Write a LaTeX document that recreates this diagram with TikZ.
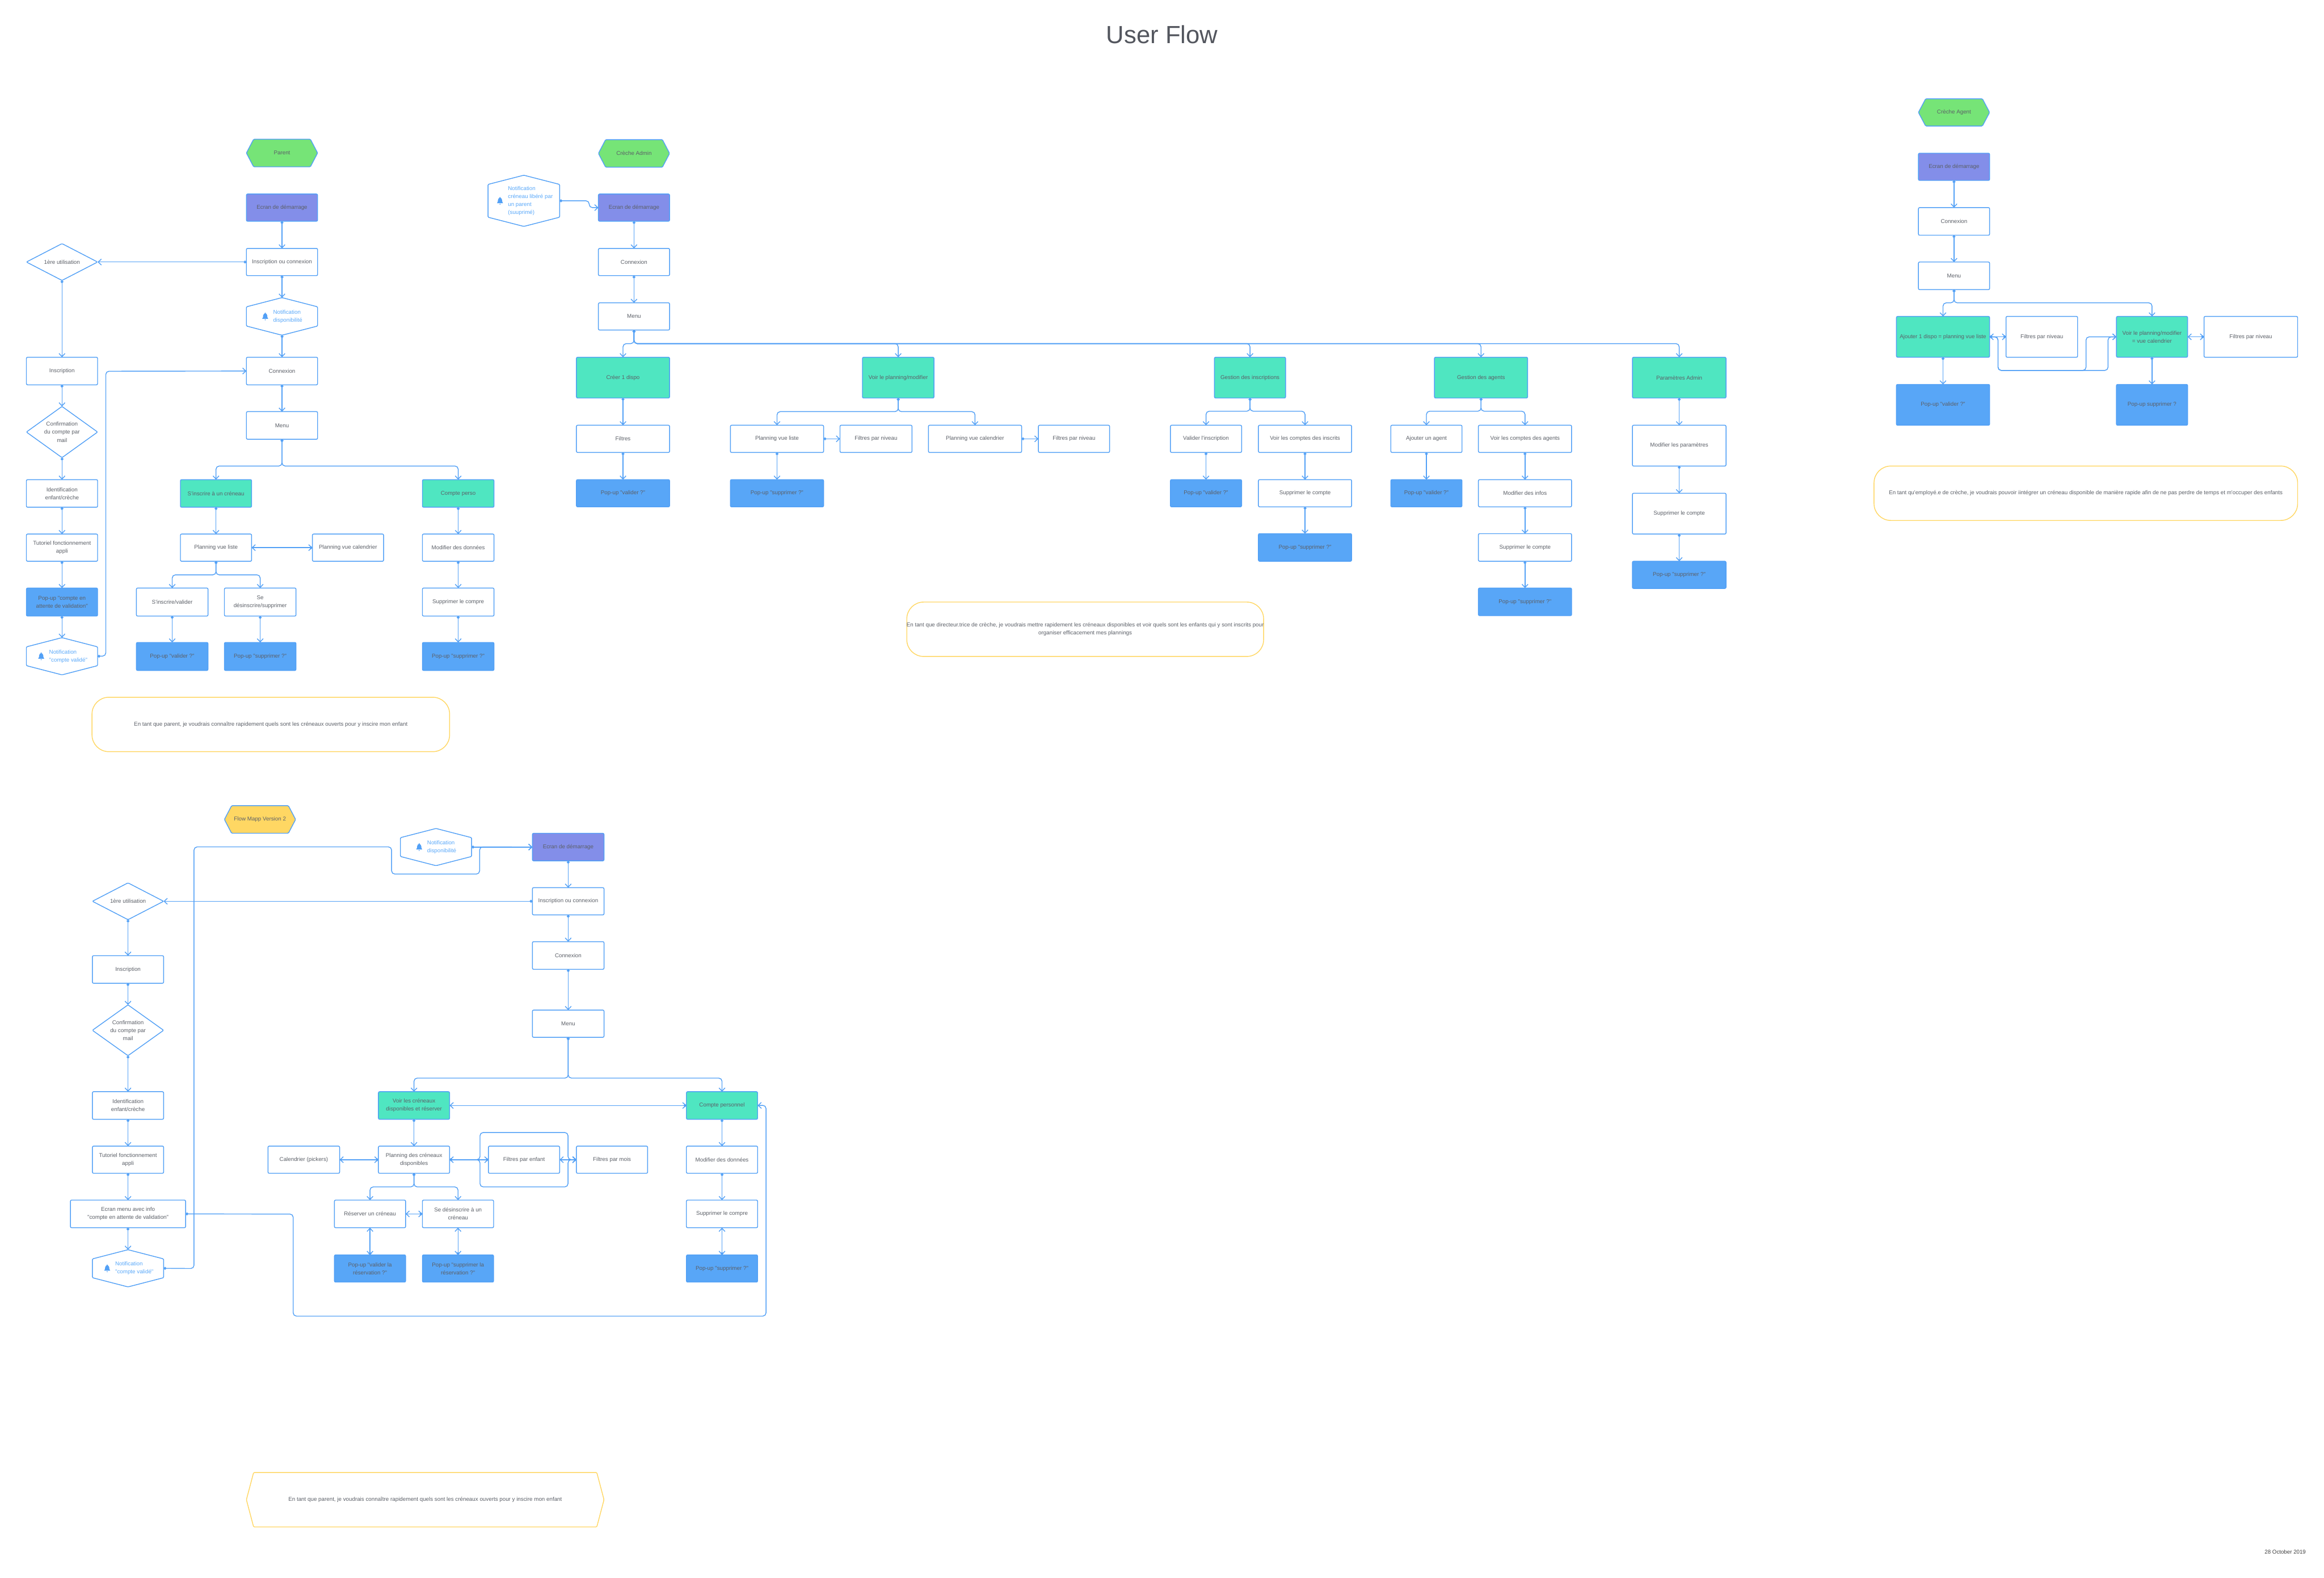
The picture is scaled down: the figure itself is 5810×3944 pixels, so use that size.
\documentclass[tikz,border=0pt]{standalone}
\usepackage{fontspec}
\newfontfamily\uifont{Liberation Sans}
\usetikzlibrary{arrows.meta}
\definecolor{line}{HTML}{52A0F6}
\definecolor{ink}{HTML}{5C6068}
\definecolor{popf}{HTML}{58A6F7}
\definecolor{teal}{HTML}{4FE6C1}
\definecolor{indigo}{HTML}{838EE9}
\definecolor{leaf}{HTML}{76E477}
\definecolor{sun}{HTML}{FFD763}
\definecolor{notif}{HTML}{5AA9FA}
\tikzset{
  txt/.style={font=\uifont\fontsize{13.9}{20}\selectfont,text=ink,align=center,inner sep=0pt,outer sep=0pt},
  box/.style={txt,shape=rectangle,draw=line,line width=2pt,fill=white,rounded corners=3pt},
  plain/.style={box},
  tealbox/.style={box,fill=teal},
  popbox/.style={box,fill=popf},
  indbox/.style={box,fill=indigo},
  note/.style={txt,shape=rectangle,draw=sun,line width=2pt,fill=white,rounded corners=42pt},
  outline/.style={draw=line,line width=2pt,rounded corners=2pt},
  conn/.style={draw=line,line width=2pt,rounded corners=8pt,
    {Circle[length=7pt,fill=line]}-{Straight Barb[length=8pt,width=15pt,line width=2pt]}},
  both/.style={draw=line,line width=2pt,rounded corners=8pt,
    preaction={draw=line,line width=2pt,{Circle[length=7pt,fill=line]}-},
    {Straight Barb[length=8pt,width=15pt,line width=2pt]}-{Straight Barb[length=8pt,width=15pt,line width=2pt]}},
}
% #1 style, #2 name, #3 x1, #4 y1, #5 x2, #6 y2, #7 text
\newcommand\bx[7]{\node[#1,minimum width={(#5-#3)*1pt},minimum height={(#6-#4)*1pt}] (#2) at ({(#3+#5)/2},{(#4+#6)/2}) {#7};}
% flat hexagon: #1 fill colour, #2 name, #3..#6 box, #7 inset, #8 text, #9 stroke
\newcommand\hx[9]{\path[draw=#9,line width=2pt,rounded corners=2pt,fill=#1] (#3,{(#4+#6)/2}) -- (#3+#7,#4) -- (#5-#7,#4) -- (#5,{(#4+#6)/2}) -- (#5-#7,#6) -- (#3+#7,#6) -- cycle;
  \node[txt,minimum width={(#5-#3)*1pt},minimum height={(#6-#4)*1pt}] (#2) at ({(#3+#5)/2},{(#4+#6)/2}) {#8};}
% diamond: #1 name, #2..#5 box, #6 text
\newcommand\dm[6]{\path[outline,fill=white] (#2,{(#3+#5)/2}) -- ({(#2+#4)/2},#3) -- (#4,{(#3+#5)/2}) -- ({(#2+#4)/2},#5) -- cycle;
  \node[txt,minimum width={(#4-#2)*1pt},minimum height={(#5-#3)*1pt}] (#1) at ({(#2+#4)/2},{(#3+#5)/2}) {#6};}
% bell icon
\newcommand\bell[2]{\fill[line,shift={({#1},{#2})}] (0,-8) circle[radius=1.6] (-7.5,6) .. controls (-5,3) and (-5.2,0) .. (-5.2,-2) .. controls (-5.2,-6) and (-2,-7.5) .. (0,-7.5) .. controls (2,-7.5) and (5.2,-6) .. (5.2,-2) .. controls (5.2,0) and (5,3) .. (7.5,6) -- cycle (0,8.5) circle[radius=1.4];}
% pointy hexagon with bell: #1 name, #2..#5 box, #6 bell offset, #7 text offset, #8 text
\newcommand\vh[8]{\path[outline,fill=white] (#2,#3+23) -- ({(#2+#4)/2},#3) -- (#4,#3+23) -- (#4,#5-23) -- ({(#2+#4)/2},#5) -- (#2,#5-23) -- cycle;
  \node[txt,minimum width={(#4-#2)*1pt},minimum height={(#5-#3)*1pt}] (#1) at ({(#2+#4)/2},{(#3+#5)/2}) {};
  \bell{#2+#6}{(#3+#5)/2}
  \node[txt,text=notif,align=left,anchor=west] (#1t) at (#2+#7,{(#3+#5)/2}) {#8};}
\newcommand\dn[2]{\draw[conn] (#1.south) -- (#2.north);}
\newcommand\br[3]{\draw[conn] (#1.south) -- (#1.south |- 0,#2) -| (#3.north);}
\begin{document}
\begin{tikzpicture}[x=1pt,y=-1pt]
\useasboundingbox (0,0) rectangle (5810,3944);
\fill[white] (0,0) rectangle (5810,3944);
\node[txt,font=\uifont\fontsize{62}{70}\selectfont,text=ink!90!black] (title) at (2905,86) {User Flow};
\node[txt,font=\uifont\fontsize{13.8}{18}\selectfont,text=black!75] (date) at (5713,3880) {28 October 2019};

% ---- Parent
\hx{leaf}{pactor}{616}{348}{794}{417}{18}{Parent}{line}
\bx{indbox}{pstart}{616}{485}{794}{553}{Ecran de démarrage}
\bx{plain}{pins}{616}{621}{794}{689}{Inscription ou connexion}
\vh{pnotif}{616}{744}{794}{838}{47}{67}{Notification\\disponibilité}
\bx{plain}{pconn}{616}{893}{794}{962}{Connexion}
\bx{plain}{pmenu}{616}{1029}{794}{1098}{Menu}
\bx{tealbox}{psub}{451}{1199}{629}{1268}{S'inscrire à un créneau}
\bx{tealbox}{pperso}{1056}{1199}{1235}{1268}{Compte perso}
\bx{plain}{plist}{451}{1335}{629}{1403}{Planning vue liste}
\bx{plain}{pcal}{781}{1335}{959}{1403}{Planning vue calendrier}
\bx{plain}{pmod}{1056}{1335}{1235}{1403}{Modifier des données}
\bx{plain}{psup}{1056}{1470}{1235}{1540}{Supprimer le compre}
\bx{popbox}{ppsup}{1056}{1606}{1235}{1676}{Pop-up "supprimer ?"}
\bx{plain}{pval}{341}{1470}{520}{1540}{S'inscrire/valider}
\bx{plain}{pdes}{561}{1470}{740}{1540}{Se\\désinscrire/supprimer}
\bx{popbox}{ppval}{341}{1606}{520}{1676}{Pop-up "valider ?"}
\bx{popbox}{ppdes}{561}{1606}{740}{1676}{Pop-up "supprimer ?"}
\dm{pfirst}{66}{609}{244}{701}{1ère utilisation}
\bx{plain}{preg}{66}{893}{244}{962}{Inscription}
\dm{pmail}{66}{1016}{244}{1144}{Confirmation\\du compte par\\mail}
\bx{plain}{pid}{66}{1199}{244}{1268}{Identification\\enfant/crèche}
\bx{plain}{ptuto}{66}{1335}{244}{1403}{Tutoriel fonctionnement\\appli}
\bx{popbox}{pwait}{66}{1470}{244}{1540}{Pop-up "compte en\\attente de validation"}
\vh{pok}{66}{1594}{244}{1687}{37}{57}{Notification\\"compte validé"}
\bx{note}{pnote}{230}{1743}{1124}{1879}{En tant que parent, je voudrais connaître rapidement quels sont les créneaux ouverts pour y inscire mon enfant}
\dn{pstart}{pins}\dn{pins}{pnotif}\dn{pnotif}{pconn}\dn{pconn}{pmenu}
\br{pmenu}{1165}{psub}\br{pmenu}{1165}{pperso}
\dn{psub}{plist}\draw[both] (pcal.west) -- (plist.east);
\br{plist}{1437}{pval}\br{plist}{1437}{pdes}
\dn{pval}{ppval}\dn{pdes}{ppdes}
\dn{pperso}{pmod}\dn{pmod}{psup}\dn{psup}{ppsup}
\draw[conn] (pins.west) -- (pfirst.east);
\dn{pfirst}{preg}\dn{preg}{pmail}\dn{pmail}{pid}\dn{pid}{ptuto}\dn{ptuto}{pwait}\dn{pwait}{pok}
\draw[conn] (pok.east) -- (264.5,1640) -- (264.5,928) -- (pconn.west);

% ---- Crèche Admin
\hx{leaf}{aactor}{1496}{349}{1674}{418}{18}{Crèche Admin}{line}
\vh{anotif}{1220}{438}{1399}{566}{30}{50}{Notification\\créneau libéré par\\un parent\\(suuprimé)}
\bx{indbox}{astart}{1496}{485}{1674}{553}{Ecran de démarrage}
\bx{plain}{aconn}{1496}{621}{1674}{689}{Connexion}
\bx{plain}{amenu}{1496}{757}{1674}{825}{Menu}
\bx{tealbox}{at1}{1441}{893}{1674}{995}{Créer 1 dispo}
\bx{tealbox}{at2}{2156}{893}{2335}{995}{Voir le planning/modifier}
\bx{tealbox}{at3}{3036}{893}{3214}{995}{Gestion des inscriptions}
\bx{tealbox}{at4}{3586}{893}{3819}{995}{Gestion des agents}
\bx{tealbox}{at5}{4081}{893}{4315}{995}{Paramètres Admin}
\bx{plain}{afil}{1441}{1063}{1674}{1131}{Filtres}
\bx{plain}{alist}{1826}{1063}{2059}{1131}{Planning vue liste}
\bx{plain}{af1}{2100}{1063}{2280}{1131}{Filtres par niveau}
\bx{plain}{acal}{2321}{1063}{2554}{1131}{Planning vue calendrier}
\bx{plain}{af2}{2596}{1063}{2774}{1131}{Filtres par niveau}
\bx{plain}{avi}{2926}{1063}{3104}{1131}{Valider l'inscription}
\bx{plain}{avc}{3146}{1063}{3379}{1131}{Voir les comptes des inscrits}
\bx{plain}{aaj}{3477}{1063}{3655}{1131}{Ajouter un agent}
\bx{plain}{ava}{3696}{1063}{3929}{1131}{Voir les comptes des agents}
\bx{plain}{amp}{4081}{1063}{4315}{1165}{Modifier les paramètres}
\bx{plain}{asp}{4081}{1233}{4315}{1335}{Supprimer le compte}
\bx{popbox}{app}{4081}{1403}{4315}{1471}{Pop-up "supprimer ?"}
\bx{popbox}{ap1}{1441}{1199}{1674}{1267}{Pop-up "valider ?"}
\bx{popbox}{ap2}{1826}{1199}{2059}{1267}{Pop-up "supprimer ?"}
\bx{popbox}{ap3}{2926}{1199}{3104}{1267}{Pop-up "valider ?"}
\bx{plain}{asc}{3146}{1199}{3379}{1267}{Supprimer le compte}
\bx{popbox}{ap4}{3477}{1199}{3655}{1267}{Pop-up "valider ?"}
\bx{plain}{ami}{3696}{1199}{3929}{1267}{Modifier des infos}
\bx{popbox}{ap5}{3146}{1334}{3379}{1403}{Pop-up "supprimer ?"}
\bx{plain}{asi}{3696}{1334}{3929}{1403}{Supprimer le compte}
\bx{popbox}{ap6}{3696}{1470}{3929}{1539}{Pop-up "supprimer ?"}
\bx{note}{anote}{2267}{1505}{3159}{1641}{}
\node[txt] (anotetext) at (anote.center) {En tant que directeur.trice de crèche, je voudrais mettre rapidement les créneaux disponibles et voir quels sont les enfants qui y sont inscrits pour\\organiser efficacement mes plannings};
\draw[conn] (anotif.east) -- (1473,502) -- (1473,519) -- (astart.west);
\dn{astart}{aconn}\dn{aconn}{amenu}
\br{amenu}{859}{at1}\br{amenu}{859}{at2}\br{amenu}{859}{at3}\br{amenu}{859}{at4}\br{amenu}{859}{at5}
\dn{at1}{afil}\dn{afil}{ap1}
\br{at2}{1029}{alist}\br{at2}{1029}{acal}
\dn{alist}{ap2}\draw[conn] (alist.east) -- (af1.west);\draw[conn] (acal.east) -- (af2.west);
\br{at3}{1028}{avi}\br{at3}{1028}{avc}
\dn{avi}{ap3}\dn{avc}{asc}\dn{asc}{ap5}
\br{at4}{1028}{aaj}\br{at4}{1028}{ava}
\dn{aaj}{ap4}\dn{ava}{ami}\dn{ami}{asi}\dn{asi}{ap6}
\dn{at5}{amp}\dn{amp}{asp}\dn{asp}{app}

% ---- Crèche Agent
\hx{leaf}{cactor}{4796}{247}{4974}{315}{18}{Crèche Agent}{line}
\bx{indbox}{cstart}{4796}{383}{4974}{451}{Ecran de démarrage}
\bx{plain}{cconn}{4796}{519}{4974}{588}{Connexion}
\bx{plain}{cmenu}{4796}{655}{4974}{724}{Menu}
\bx{tealbox}{ct1}{4741}{791}{4974}{893}{Ajouter 1 dispo = planning vue liste}
\bx{plain}{cf1}{5015}{791}{5194}{893}{Filtres par niveau}
\bx{tealbox}{ct2}{5291}{791}{5469}{893}{Voir le planning/modifier\\= vue calendrier}
\bx{plain}{cf2}{5510}{791}{5744}{893}{Filtres par niveau}
\bx{popbox}{cp1}{4741}{961}{4974}{1063}{Pop-up "valider ?"}
\bx{popbox}{cp2}{5291}{961}{5469}{1063}{Pop-up supprimer ?}
\bx{note}{cnote}{4685}{1165}{5744}{1301}{En tant qu'employé.e de crèche, je voudrais pouvoir iintégrer un créneau disponible de manière rapide afin de ne pas perdre de temps et m'occuper des enfants}
\dn{cstart}{cconn}\dn{cconn}{cmenu}
\br{cmenu}{757}{ct1}\br{cmenu}{757}{ct2}
\dn{ct1}{cp1}\dn{ct2}{cp2}
\draw[both] (cf1.west) -- (ct1.east);
\draw[both] (cf2.west) -- (ct2.east);
\draw[conn] (ct1.east) -- (4995,842) -- (4995,926) -- (5215,926) -- (5215,842) -- (ct2.west);
\draw[conn] (ct1.east) -- (4995,842) -- (4995,926) -- (5270,926) -- (5270,842) -- (ct2.west);

% ---- Flow Mapp Version 2
\hx{sun}{vactor}{561}{2014}{739}{2083}{18}{Flow Mapp Version 2}{line}
\vh{vnotif}{1001}{2071}{1179}{2164}{47}{67}{Notification\\disponibilité}
\bx{indbox}{vstart}{1331}{2083}{1510}{2152}{Ecran de démarrage}
\bx{plain}{vins}{1331}{2219}{1510}{2287}{Inscription ou connexion}
\bx{plain}{vconn}{1331}{2354}{1510}{2423}{Connexion}
\bx{plain}{vmenu}{1331}{2525}{1510}{2593}{Menu}
\dm{vfirst}{231}{2207}{409}{2299}{1ère utilisation}
\bx{plain}{vreg}{231}{2389}{409}{2458}{Inscription}
\dm{vmail}{231}{2512}{409}{2639}{Confirmation\\du compte par\\mail}
\bx{plain}{vid}{231}{2729}{409}{2798}{Identification\\enfant/crèche}
\bx{plain}{vtuto}{231}{2865}{409}{2933}{Tutoriel fonctionnement\\appli}
\bx{plain}{vwait}{176}{3000}{464}{3069}{Ecran menu avec info\\"compte en attente de validation"}
\vh{vok}{231}{3124}{409}{3217}{37}{57}{Notification\\"compte validé"}
\bx{tealbox}{vt1}{946}{2729}{1124}{2798}{Voir les créneaux\\disponibles et réserver}
\bx{tealbox}{vt2}{1716}{2729}{1894}{2798}{Compte personnel}
\bx{plain}{vplan}{946}{2865}{1124}{2933}{Planning des créneaux\\disponibles}
\bx{plain}{vcald}{670}{2865}{849}{2933}{Calendrier (pickers)}
\bx{plain}{vfe}{1221}{2865}{1399}{2933}{Filtres par enfant}
\bx{plain}{vfm}{1441}{2865}{1619}{2933}{Filtres par mois}
\bx{plain}{vmod}{1716}{2865}{1894}{2933}{Modifier des données}
\bx{plain}{vres}{836}{3000}{1014}{3069}{Réserver un créneau}
\bx{plain}{vdes}{1056}{3000}{1234}{3069}{Se désinscrire à un\\créneau}
\bx{plain}{vsup}{1716}{3000}{1894}{3069}{Supprimer le compre}
\bx{popbox}{vpres}{836}{3137}{1014}{3205}{Pop-up "valider la\\réservation ?"}
\bx{popbox}{vpdes}{1056}{3137}{1234}{3205}{Pop-up "supprimer la\\réservation ?"}
\bx{popbox}{vpsup}{1716}{3137}{1894}{3205}{Pop-up "supprimer ?"}
\hx{white}{vnote}{616}{3681}{1510}{3817}{18}{En tant que parent, je voudrais connaître rapidement quels sont les créneaux ouverts pour y inscire mon enfant}{sun}
\draw[conn] (vnotif.east) -- (vstart.west);
\dn{vstart}{vins}\dn{vins}{vconn}\dn{vconn}{vmenu}
\draw[conn] (vins.west) -- (vfirst.east);
\dn{vfirst}{vreg}\dn{vreg}{vmail}\dn{vmail}{vid}\dn{vid}{vtuto}\dn{vtuto}{vwait}\dn{vwait}{vok}
\draw[conn] (vok.east) -- (485,3171) -- (485,2117) -- (979,2117) -- (979,2185) -- (1199,2185) -- (1199,2117) -- (vstart.west);
\draw[conn] (vwait.east) -- (733,3035) -- (733,3290) -- (1915,3290) -- (1915,2763) -- (vt2.east);
\br{vmenu}{2695}{vt1}\br{vmenu}{2695}{vt2}
\draw[both] (vt2.west) -- (vt1.east);
\dn{vt1}{vplan}\dn{vt2}{vmod}\dn{vmod}{vsup}
\draw[both] (vpsup.north) -- (vsup.south);
\draw[both] (vplan.west) -- (vcald.east);
\draw[both] (vfe.west) -- (vplan.east);
\draw[both] (vfm.west) -- (vfe.east);
\draw[conn] (vplan.east) -- (1200,2899) -- (1200,2831) -- (1420,2831) -- (1420,2899) -- (vfm.west);
\draw[conn] (vplan.east) -- (1200,2899) -- (1200,2967) -- (1420,2967) -- (1420,2899) -- (vfm.west);
\br{vplan}{2967}{vres}\br{vplan}{2967}{vdes}
\draw[both] (vdes.west) -- (vres.east);
\draw[both] (vpres.north) -- (vres.south);
\draw[both] (vpdes.north) -- (vdes.south);
\end{tikzpicture}
\end{document}
